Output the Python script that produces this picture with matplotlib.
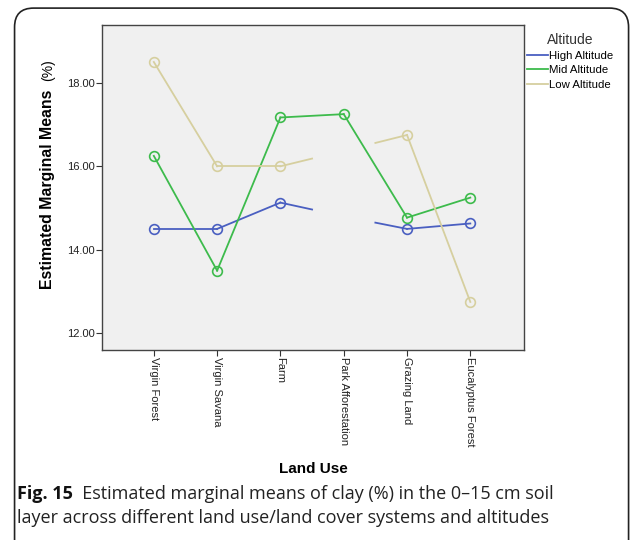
import matplotlib.pyplot as plt
from matplotlib.patches import FancyBboxPatch

# data
land_use = ["Virgin Forest", "Virgin Savana", "Farm", "Park Afforestation",
            "Grazing Land", "Eucalyptus Forest"]
high_alt = [14.5, 14.5, 15.13, 14.8, 14.5, 14.63]
mid_alt = [16.25, 13.5, 17.17, 17.25, 14.77, 15.25]
low_alt = [18.5, 16.0, 16.0, 16.37, 16.75, 12.75]
# Park Afforestation has no estimable mean at high/low altitude
high_shown = [True, True, True, False, True, True]
mid_shown = [True, True, True, True, True, True]
low_shown = [True, True, True, False, True, True]
y_ticks = [12.0, 14.0, 16.0, 18.0]

chart_font = "Liberation Sans"
caption_font = "Open Sans"


def draw_series(ax, values, shown, color, label):
    x = list(range(len(values)))
    for i in range(len(values) - 1):
        x0, x1 = x[i], x[i + 1]
        y0, y1 = values[i], values[i + 1]
        if shown[i] and shown[i + 1]:
            ax.plot([x0, x1], [y0, y1], color=color, lw=1.3)
        elif shown[i]:
            ax.plot([x0, (x0 + x1) / 2], [y0, (y0 + y1) / 2], color=color, lw=1.3)
        elif shown[i + 1]:
            ax.plot([(x0 + x1) / 2, x1], [(y0 + y1) / 2, y1], color=color, lw=1.3)
    xs = [xi for xi, s in zip(x, shown) if s]
    ys = [v for v, s in zip(values, shown) if s]
    ax.plot(xs, ys, ls="none", marker="o", ms=7, mfc="none", mec=color, mew=1.2)
    ax.plot([], [], color=color, lw=1.3, label=label)


fig = plt.figure(figsize=(6.33, 5.4), dpi=100)

# rounded frame around the figure panel
frame = FancyBboxPatch((0.023, -0.05), 0.97, 1.035, boxstyle="round,pad=0,rounding_size=0.03",
                       transform=fig.transFigure, fc="none", ec="#222222", lw=1.2,
                       mutation_aspect=633 / 540, zorder=-1)
fig.patches.append(frame)

ax = fig.add_axes([0.161, 0.352, 0.667, 0.602])
ax.set_facecolor("#f0f0f0")

draw_series(ax, high_alt, high_shown, "#4a5fc1", "High Altitude")
draw_series(ax, mid_alt, mid_shown, "#3dbb4c", "Mid Altitude")
draw_series(ax, low_alt, low_shown, "#d6cf9f", "Low Altitude")

ax.set_xlim(-0.82, 5.85)
ax.set_ylim(11.6, 19.39)
ax.set_yticks(y_ticks)
ax.set_yticklabels([f"{t:.2f}" for t in y_ticks], fontsize=8, family=chart_font, color="#222222")
ax.set_xticks(range(len(land_use)))
ax.set_xticklabels(land_use, rotation=-90, fontsize=8, family=chart_font, color="#222222",
                   va="top", ha="center")
ax.tick_params(length=4, width=0.8, color="#333333", pad=1)
for sp in ax.spines.values():
    sp.set_color("#444444")
    sp.set_linewidth(1.0)

ax.set_xlabel("Land Use", fontsize=11, fontweight="bold", family=chart_font, labelpad=11)
ax.text(-0.11, 0.495, "Estimated Marginal Means", transform=ax.transAxes, rotation=90,
        fontsize=11.4, fontweight="bold", family=chart_font, ha="right", va="center")
ax.text(-0.11, 0.895, "(%)", transform=ax.transAxes, rotation=90, fontsize=10,
        family=chart_font, ha="right", va="top")

leg = ax.legend(title="Altitude", loc="upper left", bbox_to_anchor=(0.995, 0.99), frameon=False,
                prop={"family": chart_font, "size": 8.2}, handlelength=1.9, handletextpad=0.1,
                labelspacing=0.38, borderaxespad=0)
leg.get_title().set_fontsize(10)
leg.get_title().set_family(chart_font)
leg.get_title().set_color("#333333")

# caption
bold = fig.text(0.027, 0.076, "Fig. 15", fontsize=13, fontweight="bold", family=caption_font,
                color="#111111", va="baseline")
fig.canvas.draw()
bb = bold.get_window_extent(fig.canvas.get_renderer())
x_after = bb.x1 / fig.bbox.width
fig.text(x_after, 0.076, "  Estimated marginal means of clay (%) in the 0\u201315 cm soil",
         fontsize=13, family=caption_font, color="#222222", va="baseline")
fig.text(0.027, 0.032, "layer across different land use/land cover systems and altitudes",
         fontsize=13, family=caption_font, color="#222222", va="baseline")

fig.savefig("out.png", dpi=100)
